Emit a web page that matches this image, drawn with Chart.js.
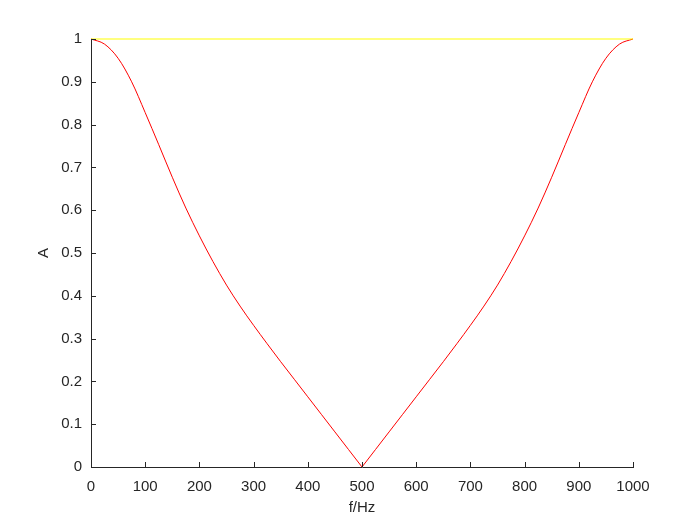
<!DOCTYPE html>
<html>
<head>
<meta charset="utf-8">
<script src="https://cdn.jsdelivr.net/npm/chart.js@4.4.0/dist/chart.umd.min.js"></script>
<style>
  html, body { margin: 0; padding: 0; background: #fff; }
  #wrap { width: 700px; height: 525px; }
</style>
</head>
<body>
<div id="wrap"><canvas id="myChart" width="700" height="525"></canvas></div>
<script>
// frequency axis (Hz) and amplitude, split at the notch
const freqLeft = [
  0, 25, 50, 75, 100, 125, 150, 175, 200, 225, 250, 275, 300, 325, 350, 375,
  400, 425, 450, 475, 500,
];
const ampLeft = [
  1.0, 0.988, 0.955, 0.900, 0.828, 0.753, 0.677, 0.605, 0.540, 0.480, 0.425,
  0.376, 0.331, 0.288, 0.246, 0.205, 0.164, 0.123, 0.082, 0.041, 0.0,
];
const freqRight = [
  500, 525, 550, 575, 600, 625, 650, 675, 700, 725, 750, 775, 800, 825, 850,
  875, 900, 925, 950, 975, 1000,
];
const ampRight = [
  0.0, 0.041, 0.082, 0.123, 0.164, 0.205, 0.246, 0.288, 0.331, 0.376, 0.425,
  0.480, 0.540, 0.605, 0.677, 0.753, 0.828, 0.900, 0.955, 0.988, 1.0,
];
const yellowFreq = [0, 1000];
const ampYellow = [1, 1];
const xTicks = [0, 100, 200, 300, 400, 500, 600, 700, 800, 900, 1000];
const yTicks = [0, 0.1, 0.2, 0.3, 0.4, 0.5, 0.6, 0.7, 0.8, 0.9, 1];

const axisColor = "#262626";
const font = { family: "Liberation Sans, Arial, Helvetica, sans-serif", size: 15 };

// inward tick marks, matlab style
const innerTicks = {
  id: "innerTicks",
  afterDraw(chart) {
    const c = chart.ctx;
    const xs = chart.scales.x, ys = chart.scales.y;
    const a = chart.chartArea;
    c.save();
    c.strokeStyle = axisColor;
    c.lineWidth = 1;
    c.beginPath();
    xTicks.forEach((v) => {
      const px = Math.round(xs.getPixelForValue(v)) + 0.5;
      c.moveTo(px, a.bottom);
      c.lineTo(px, a.bottom - 5);
    });
    yTicks.forEach((v) => {
      const py = Math.round(ys.getPixelForValue(v)) + 0.5;
      c.moveTo(a.left, py);
      c.lineTo(a.left + 5, py);
    });
    c.stroke();
    c.restore();
  },
};

const redLine = (fs, as) => ({
  data: fs.map((f, i) => ({ x: f, y: as[i] })),
  borderColor: "#ff0000",
  borderWidth: 1,
  pointRadius: 0,
  cubicInterpolationMode: "monotone",
  clip: 4,
});

var ctx = document.getElementById("myChart");
var myChart = new Chart(ctx, {
  type: "line",
  data: {
    datasets: [
      {
        label: "yellow",
        data: yellowFreq.map((f, i) => ({ x: f, y: ampYellow[i] })),
        borderColor: "#ffff00",
        borderWidth: 1.2,
        pointRadius: 0,
        clip: 4,
      },
      redLine(freqLeft, ampLeft),
      redLine(freqRight, ampRight),
    ],
  },
  options: {
    responsive: false,
    animation: false,
    layout: { padding: { top: 39, right: 67, left: 0, bottom: 0 } },
    plugins: { legend: { display: false }, tooltip: { enabled: false } },
    scales: {
      x: {
        type: "linear",
        min: 0,
        max: 1000,
        afterFit: (s) => { s.height = 58; },
        afterBuildTicks: (s) => { s.ticks = xTicks.map((v) => ({ value: v })); },
        grid: { display: false, drawTicks: false },
        border: { display: true, color: axisColor, width: 1 },
        ticks: {
          color: axisColor,
          font: font,
          padding: 11,
          maxRotation: 0,
          callback: (v) => String(v),
        },
        title: {
          display: true,
          text: "f/Hz",
          color: axisColor,
          font: { family: font.family, size: 15 },
          padding: { top: 0, bottom: 8 },
        },
      },
      y: {
        type: "linear",
        min: 0,
        max: 1,
        afterFit: (s) => { s.width = 91; },
        afterBuildTicks: (s) => { s.ticks = yTicks.map((v) => ({ value: v })); },
        grid: { display: false, drawTicks: false },
        border: { display: true, color: axisColor, width: 1 },
        ticks: {
          color: axisColor,
          font: font,
          padding: 9,
          callback: (v) => String(Math.round(v * 10) / 10),
        },
        title: {
          display: true,
          text: "A",
          color: axisColor,
          font: { family: font.family, size: 15 },
          padding: { top: 35, bottom: 0 },
        },
      },
    },
  },
  plugins: [innerTicks],
});
</script>
</body>
</html>
